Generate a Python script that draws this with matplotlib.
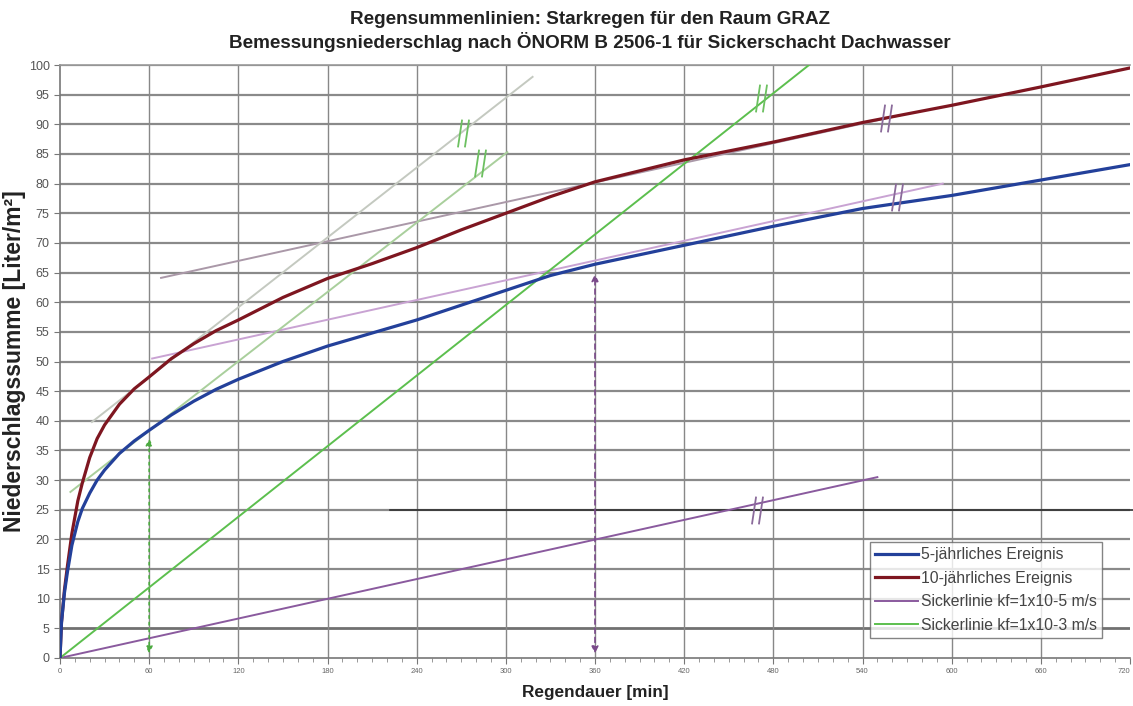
import matplotlib
matplotlib.use("Agg")
import matplotlib.pyplot as plt
from matplotlib.path import Path
import numpy as np

plt.rcParams['font.family'] = ['Liberation Sans', 'DejaVu Sans']

# ---------------- data ----------------
duration_min = [0, 1, 3, 5, 8, 12, 15, 20, 25, 30, 40, 50, 60, 75, 90, 105, 120, 150, 180, 210,
                240, 270, 300, 330, 360, 420, 480, 540, 600, 660, 720]
event_5y = [0, 6, 11, 14.5, 19, 23, 25.2, 27.8, 30, 31.7, 34.5, 36.6, 38.4, 41, 43.3, 45.3, 47, 50, 52.6, 54.8,
            57, 59.5, 62, 64.5, 66.4, 69.6, 72.8, 75.8, 78, 80.6, 83.2]
event_10y = [0, 6, 11.5, 15.5, 21, 26.5, 29.5, 33.8, 37, 39.3, 42.8, 45.4, 47.4, 50.5, 53, 55.2, 57, 60.8, 64, 66.5,
             69.2, 72.2, 75, 77.8, 80.3, 84, 87, 90.3, 93.2, 96.3, 99.5]

sicker_kf5_x = [0, 550]
sicker_kf5_y = [0, 30.5]
sicker_kf3_x = [0, 504]
sicker_kf3_y = [0, 100]

# helper tangent lines (parallel shifts of the infiltration lines)
tan_blue_kf5_x = [62, 594]
tan_blue_kf5_y = [50.5, 80]
tan_red_kf5_x = [68, 565]
tan_red_kf5_y = [64.1, 91.5]
tan_red_kf3_x = [21.5, 318]
tan_red_kf3_y = [39.8, 98]
tan_blue_kf3_x = [7, 301]
tan_blue_kf3_y = [28, 85.3]

# design markers (vertical arrows)
arrow_kf3_x = 60
arrow_kf3_top = 37.5
arrow_kf5_x = 360
arrow_kf5_top = 65.2

# break marks "//" (x, y)
breaks_purple = [(469, 25.0), (563, 77.7), (556, 91.0)]
breaks_green = [(271, 88.5), (282.5, 83.5), (472, 94.5)]

x_ticks = list(range(0, 721, 60))
y_ticks = list(range(0, 101, 5))

legend_labels = ["5-jährliches Ereignis", "10-jährliches Ereignis",
                 "Sickerlinie kf=1x10-5 m/s", "Sickerlinie kf=1x10-3 m/s"]

# ---------------- figure ----------------
fig = plt.figure(figsize=(11.33, 7.06), dpi=100)
ax = fig.add_axes([60/1133, 48/706, 1070/1133, 593/706])
ax.set_xlim(0, 720)
ax.set_ylim(0, 100)

# grid
for y in y_ticks[1:]:
    c = '#8a8a8a' if y != 5 else '#707070'
    ax.axhline(y, color=c, lw=1.6 if y != 5 else 2.0, zorder=1)
for x in x_ticks[1:-1]:
    ax.axvline(x, color='#888888', lw=1.0, zorder=1)
# stray dark line at 25
ax.plot([222, 730], [25, 25], color='#303030', lw=1.2, zorder=1.5, clip_on=False)

c_blue = '#23409a'
c_red = '#7e1620'
c_purple = '#8a5a9e'
c_green = '#5cbf4e'

# helper lines
ax.plot(tan_blue_kf5_x, tan_blue_kf5_y, color='#c9a3d3', lw=1.4, zorder=2)
ax.plot(tan_red_kf5_x, tan_red_kf5_y, color='#aa98a8', lw=1.4, zorder=2)
ax.plot(tan_red_kf3_x, tan_red_kf3_y, color='#c4c9c0', lw=1.4, zorder=2)
ax.plot(tan_blue_kf3_x, tan_blue_kf3_y, color='#a9cf9c', lw=1.4, zorder=2)

# main lines
ax.plot(sicker_kf5_x, sicker_kf5_y, color=c_purple, lw=1.4, zorder=3, label=legend_labels[2])
ax.plot(sicker_kf3_x, sicker_kf3_y, color=c_green, lw=1.4, zorder=3, label=legend_labels[3])
ax.plot(duration_min, event_10y, color=c_red, lw=2.3, zorder=4, label=legend_labels[1],
        solid_joinstyle='round')
ax.plot(duration_min, event_5y, color=c_blue, lw=2.3, zorder=4, label=legend_labels[0],
        solid_joinstyle='round')

# break markers
brk = Path([(-1.6, -4), (-0.4, 4), (0.4, -4), (1.6, 4)],
           [Path.MOVETO, Path.LINETO, Path.MOVETO, Path.LINETO])
for (bx, by) in breaks_purple:
    ax.plot([bx], [by], marker=brk, markersize=20, color='#8a6a9a', mew=1.3,
            linestyle='none', zorder=5)
for (bx, by) in breaks_green:
    ax.plot([bx], [by], marker=brk, markersize=20, color='#6cc060', mew=1.3,
            linestyle='none', zorder=5)

# vertical arrows
ax.annotate('', xy=(arrow_kf3_x, arrow_kf3_top), xytext=(arrow_kf3_x, 0.3),
            arrowprops=dict(arrowstyle='<|-|>', color='#4caa40', lw=1.2,
                            linestyle=(0, (1.5, 2.5)), mutation_scale=10), zorder=5)
ax.annotate('', xy=(arrow_kf5_x, arrow_kf5_top), xytext=(arrow_kf5_x, 0.3),
            arrowprops=dict(arrowstyle='<|-|>', color='#7a4a8a', lw=1.2,
                            linestyle=(0, (3, 2.5)), mutation_scale=10), zorder=5)

# ticks
ax.set_xticks(x_ticks)
ax.set_xticklabels([str(v) for v in x_ticks], fontsize=5.5, color='#666666')
ax.get_xticklabels()[-1].set_horizontalalignment('right')
ax.set_xticks(list(range(0, 721, 10)), minor=True)
ax.set_yticks(y_ticks)
ax.set_yticklabels([str(v) for v in y_ticks], fontsize=9, color='#555555')
ax.tick_params(axis='both', which='major', length=4, color='#777777', direction='out')
ax.tick_params(axis='x', which='minor', length=3, color='#888888')
for s in ax.spines.values():
    s.set_color('#777777')
    s.set_linewidth(1.2)
ax.spines['top'].set_color('#999999')
ax.spines['right'].set_visible(False)

ax.set_xlabel('Regendauer [min]', fontsize=12.4, fontweight='bold', color='#222222', labelpad=7)
ax.set_ylabel('Niederschlagssumme [Liter/m²]', fontsize=16.5, fontweight='bold', color='#222222', labelpad=2)

fig.text(0.521, 0.973, 'Regensummenlinien: Starkregen für den Raum GRAZ',
         ha='center', va='center', fontsize=13.6, fontweight='bold', color='#222222')
fig.text(0.521, 0.940, 'Bemessungsniederschlag nach ÖNORM B 2506-1 für Sickerschacht Dachwasser',
         ha='center', va='center', fontsize=13.6, fontweight='bold', color='#222222')

handles, labels = ax.get_legend_handles_labels()
order = [3, 2, 0, 1]
leg = ax.legend([handles[i] for i in order], [labels[i] for i in order],
                loc='lower right', bbox_to_anchor=(0.974, 0.033), fontsize=11.3,
                frameon=True, fancybox=False, edgecolor='#666666',
                handlelength=2.7, handletextpad=0.2, borderpad=0.35, labelspacing=0.55,
                borderaxespad=0.0)
for t in leg.get_texts():
    t.set_color('#444444')
leg.get_frame().set_linewidth(1.0)

fig.savefig('out.png', dpi=100)
